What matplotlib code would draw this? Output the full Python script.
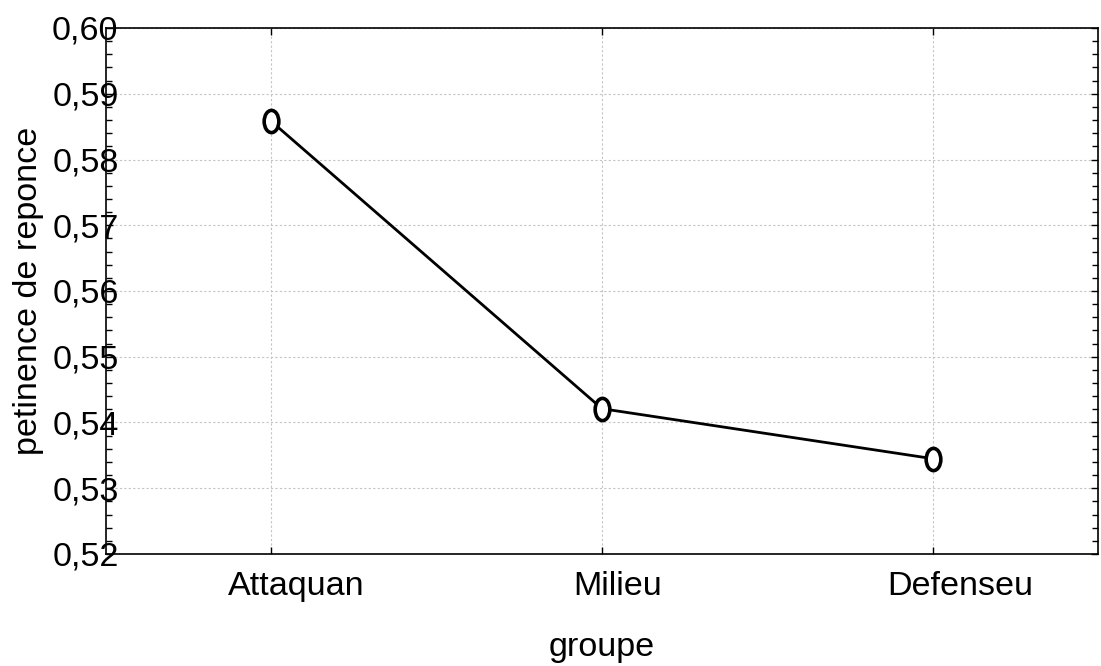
import matplotlib
matplotlib.use("Agg")
import matplotlib.pyplot as plt
from matplotlib.path import Path
from matplotlib.transforms import Affine2D, ScaledTranslation
from matplotlib.ticker import MultipleLocator, FuncFormatter

categories = ["Attaquan", "Milieu", "Defenseu"]
values = [0.5858, 0.5421, 0.5345]
y_ticks = [0.52, 0.53, 0.54, 0.55, 0.56, 0.57, 0.58, 0.59, 0.60]

# horizontal shift of each category label (pixels), as in the original layout
label_shift_px = [25, 16, 28]

plt.rcParams['font.family'] = ['Liberation Sans', 'DejaVu Sans']
FS = 24.6

fig = plt.figure(figsize=(11.01, 6.66), dpi=100)
ax = fig.add_axes([106/1101, 1-554/666, (1098-106)/1101, (554-28)/666])

ellipse = Path.unit_circle().transformed(Affine2D().scale(0.66, 1.0))
x = list(range(len(categories)))
ax.plot(x, values, color='black', lw=2.0, marker=ellipse, markersize=16,
        markerfacecolor='white', markeredgecolor='black', markeredgewidth=2.6, zorder=3)

ax.set_xlim(-0.5, len(categories) - 0.5)
ax.set_ylim(0.52, 0.60)
ax.set_xticks(x)
ax.set_xticklabels(categories)
ax.set_yticks(y_ticks)
ax.yaxis.set_minor_locator(MultipleLocator(0.002))
ax.yaxis.set_major_formatter(FuncFormatter(lambda v, p: f"{v:.2f}".replace('.', ',')))

ax.grid(True, which='major', color='#c4c4c4', linestyle=(0, (2, 2)), linewidth=0.8)
ax.set_axisbelow(True)

ax.tick_params(axis='both', which='both', direction='in', top=True, right=True,
               labelsize=FS, colors='black', width=1.0)
ax.tick_params(axis='both', which='major', length=5)
ax.tick_params(axis='y', which='minor', length=4)
ax.tick_params(axis='y', which='major', pad=-9)
ax.tick_params(axis='x', which='major', pad=12)

for lab, dx in zip(ax.get_xticklabels(), label_shift_px):
    lab.set_transform(lab.get_transform() + ScaledTranslation(dx / 100, 0, fig.dpi_scale_trans))

for s in ax.spines.values():
    s.set_linewidth(1.2)

ax.set_xlabel("groupe", fontsize=FS, labelpad=22)
ax.set_ylabel("petinence de reponce", fontsize=FS)
ax.yaxis.set_label_coords(-62/992, 0.5)

fig.savefig("out.png", dpi=100)
